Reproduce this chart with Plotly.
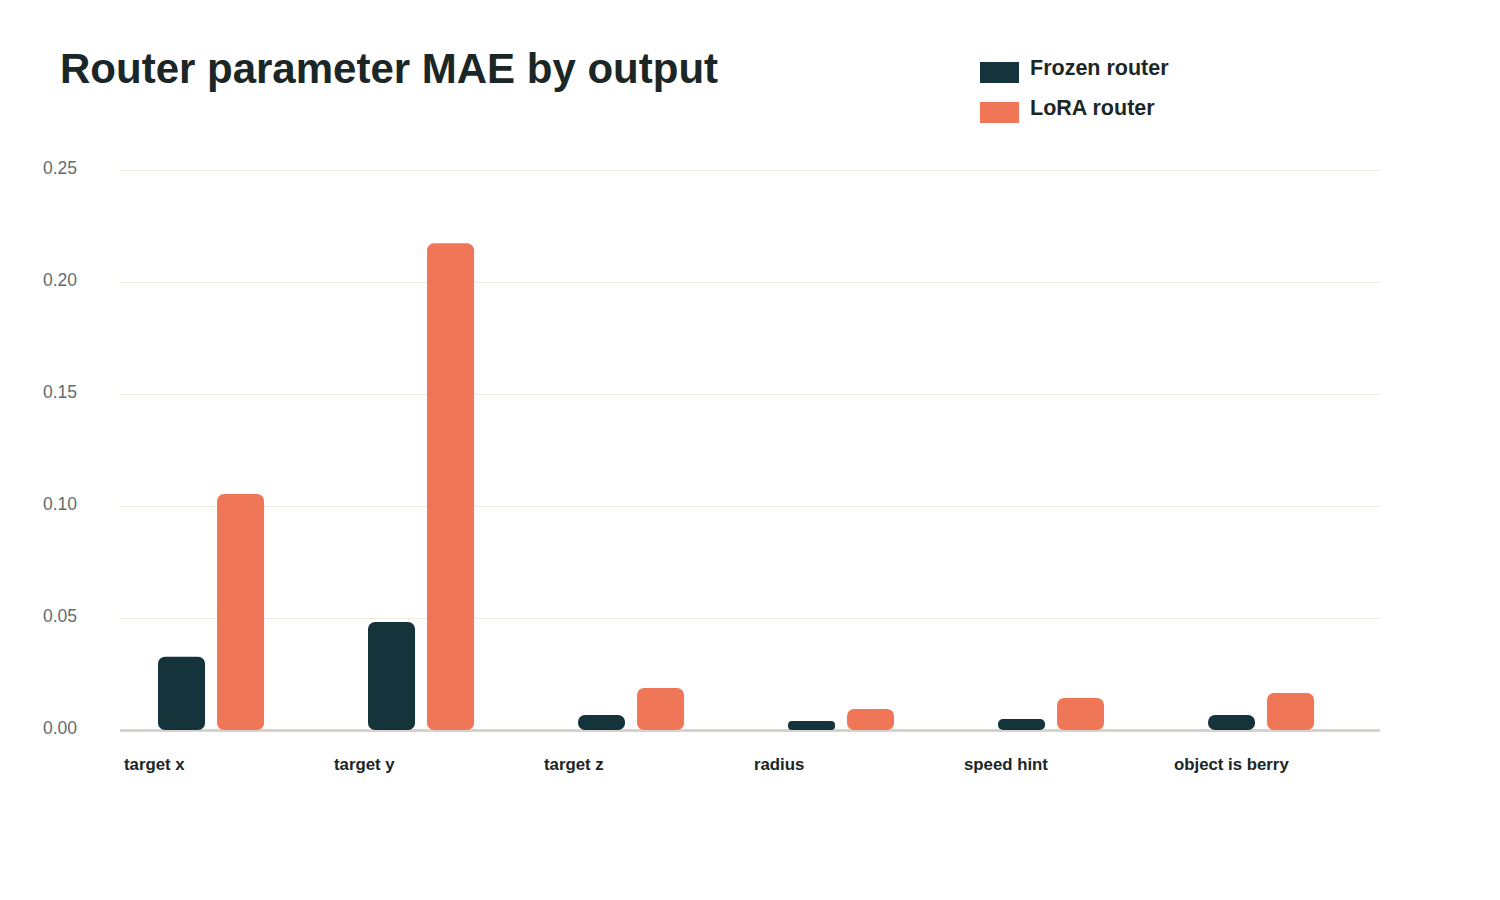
import plotly.graph_objects as go

categories = ["target x", "target y", "target z", "radius", "speed hint", "object is berry"]
frozen_name = "Frozen router"
lora_name = "LoRA router"
frozen_mae = [0.0327, 0.0482, 0.0067, 0.0040, 0.0049, 0.0067]
lora_mae = [0.1054, 0.2173, 0.0188, 0.0094, 0.0143, 0.0165]
y_ticks = [0.0, 0.05, 0.10, 0.15, 0.20, 0.25]
title_text = "Router parameter MAE by output"

FROZEN_COLOR = "#15333a"
LORA_COLOR = "#ef7758"
TEXT_DARK = "#1b2626"
FONT = "Liberation Sans, Arial, sans-serif"

# plot area geometry (px)
L, R, T, B = 120, 120, 169, 170
W, H = 1500, 900
PW, PH = W - L - R, H - T - B
Y_MAX = 0.2505


def px_x(px):
    return (px - L) / PW


def px_y(py):
    return (H - B - py) / PH


BAR_W = 0.224
fig = go.Figure()
for name, vals, color, off in [
    (frozen_name, frozen_mae, FROZEN_COLOR, -0.319),
    (lora_name, lora_mae, LORA_COLOR, -0.038),
]:
    # explicit base -> plotly rounds both ends of each bar
    fig.add_trace(go.Bar(
        x=categories, y=vals, base=[0] * len(vals),
        width=BAR_W, offset=off, name=name,
        marker=dict(color=color, line=dict(width=0), cornerradius=7),
        showlegend=False, hovertemplate="%{x}: %{y:.4f}<extra>" + name + "</extra>"))

annotations = [
    dict(text=f"<b>{title_text}</b>", xref="paper", yref="paper", x=px_x(58), y=px_y(68),
         xanchor="left", yanchor="middle", showarrow=False,
         font=dict(family=FONT, size=42, color=TEXT_DARK)),
]
for c in categories:
    annotations.append(dict(text=f"<b>{c}</b>", xref="x", yref="paper", x=c, y=px_y(764),
                            xanchor="left", yanchor="middle", xshift=-103, showarrow=False,
                            font=dict(family=FONT, size=16.8, color=TEXT_DARK)))

shapes = []
for i, (name, color) in enumerate([(frozen_name, FROZEN_COLOR), (lora_name, LORA_COLOR)]):
    top = 62 + 40 * i
    shapes.append(dict(type="rect", xref="paper", yref="paper", x0=px_x(980), x1=px_x(1019),
                       y0=px_y(top), y1=px_y(top + 21), fillcolor=color, line=dict(width=0)))
    annotations.append(dict(text=f"<b>{name}</b>", xref="paper", yref="paper", x=px_x(1028),
                            y=px_y(68 + 40 * i), xanchor="left", yanchor="middle", showarrow=False,
                            font=dict(family=FONT, size=21.5, color=TEXT_DARK)))

fig.update_layout(
    width=W, height=H, margin=dict(l=L, r=R, t=T, b=B, pad=0),
    paper_bgcolor="white", plot_bgcolor="white", barmode="overlay",
    showlegend=False, annotations=annotations, shapes=shapes,
    font=dict(family=FONT),
)
fig.update_xaxes(showticklabels=False, showgrid=False, showline=False, zeroline=False, ticks="",
                 range=[-0.5, len(categories) - 0.5])
fig.update_yaxes(range=[0, Y_MAX], tickvals=y_ticks, tickformat=".2f", showgrid=True,
                 gridcolor="#edecdf", gridwidth=1, zeroline=True, zerolinecolor="#d6d3cc",
                 zerolinewidth=3, showline=False, ticks="", ticklabelstandoff=42,
                 ticklabelshift=-2,
                 tickfont=dict(family=FONT, size=17.5, color="#5f6d6d"))

fig.write_html("out.html")
